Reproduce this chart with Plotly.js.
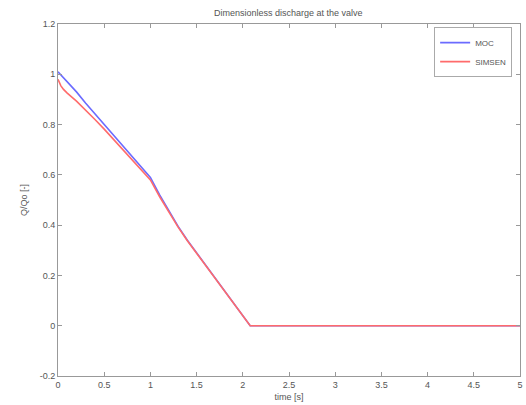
<!DOCTYPE html>
<html><head><meta charset="utf-8">
<script src="https://cdn.plot.ly/plotly-3.0.1.min.js"></script>
<style>html,body{margin:0;padding:0;background:#fff}#c{width:526px;height:405px}</style>
</head><body><div id="c"></div>
<script>
const timeMOC = [0, 0.1, 0.2, 0.3, 0.4, 0.5, 0.6, 0.7, 0.8, 0.9, 1.0, 1.1, 1.2, 1.3, 1.4, 1.5, 1.6, 1.7, 1.8, 1.9, 2.0, 2.08, 2.5, 3, 3.5, 4, 4.5, 5];
const qMOC    = [1.01, 0.97, 0.93, 0.885, 0.843, 0.80, 0.758, 0.716, 0.674, 0.632, 0.59, 0.52, 0.455, 0.395, 0.34, 0.29, 0.24, 0.19, 0.14, 0.09, 0.04, 0, 0, 0, 0, 0, 0, 0];
const timeSIM = [0, 0.03, 0.06, 0.1, 0.2, 0.3, 0.4, 0.5, 0.6, 0.7, 0.8, 0.9, 1.0, 1.1, 1.2, 1.3, 1.4, 1.5, 1.6, 1.7, 1.8, 1.9, 2.0, 2.08, 2.5, 3, 3.5, 4, 4.5, 5];
const qSIM    = [0.98, 0.955, 0.94, 0.925, 0.893, 0.858, 0.82, 0.782, 0.742, 0.702, 0.662, 0.622, 0.58, 0.513, 0.45, 0.392, 0.338, 0.288, 0.238, 0.188, 0.138, 0.088, 0.039, 0, 0, 0, 0, 0, 0, 0];
const xTicks = [0, 0.5, 1, 1.5, 2, 2.5, 3, 3.5, 4, 4.5, 5];
const xTickText = ['0','0.5','1','1.5','2','2.5','3','3.5','4','4.5','5'];
const yTicks = [-0.2, 0, 0.2, 0.4, 0.6, 0.8, 1, 1.2];
const yTickText = ['-0.2','0','0.2','0.4','0.6','0.8','1','1.2'];

const font = {family: 'Liberation Sans, Arial, sans-serif', size: 9, color: '#555'};
const axisCommon = {
  showgrid: false, zeroline: false, showline: true, mirror: 'ticks',
  linecolor: '#999', linewidth: 1, ticks: 'inside', ticklen: 4, tickcolor: '#999',
  tickfont: font
};
const data = [
  {x: timeMOC, y: qMOC, name: 'MOC', mode: 'lines', line: {color: '#6b6bff', width: 1.6}},
  {x: timeSIM, y: qSIM, name: 'SIMSEN', mode: 'lines', line: {color: '#ff6b6b', width: 1.6}}
];
const layout = {
  width: 526, height: 405,
  margin: {l: 58, r: 6, t: 24, b: 29},
  paper_bgcolor: '#fff', plot_bgcolor: '#fff',
  font: font,
  title: {text: 'Dimensionless discharge at the valve', font: font, x: 0.548, xanchor: 'center', y: 0.968, yanchor: 'middle', yref: 'container'},
  xaxis: Object.assign({}, axisCommon, {range: [0, 5], tickvals: xTicks, ticktext: xTickText,
    title: {text: 'time [s]', font: font, standoff: 4}}),
  yaxis: Object.assign({}, axisCommon, {range: [-0.2, 1.2], tickvals: yTicks, ticktext: yTickText,
    title: {text: 'Q/Qo [-]', font: font, standoff: 10}}),
  showlegend: true,
  legend: {x: 0.983, xanchor: 'right', y: 0.991, yanchor: 'top', bgcolor: '#fff',
    bordercolor: '#aaa', borderwidth: 1, font: {family: font.family, size: 8, color: '#555'},
    tracegroupgap: 0, itemwidth: 30, entrywidth: 0}
};
Plotly.newPlot('c', data, layout, {displayModeBar: false, staticPlot: true});
</script></body></html>
